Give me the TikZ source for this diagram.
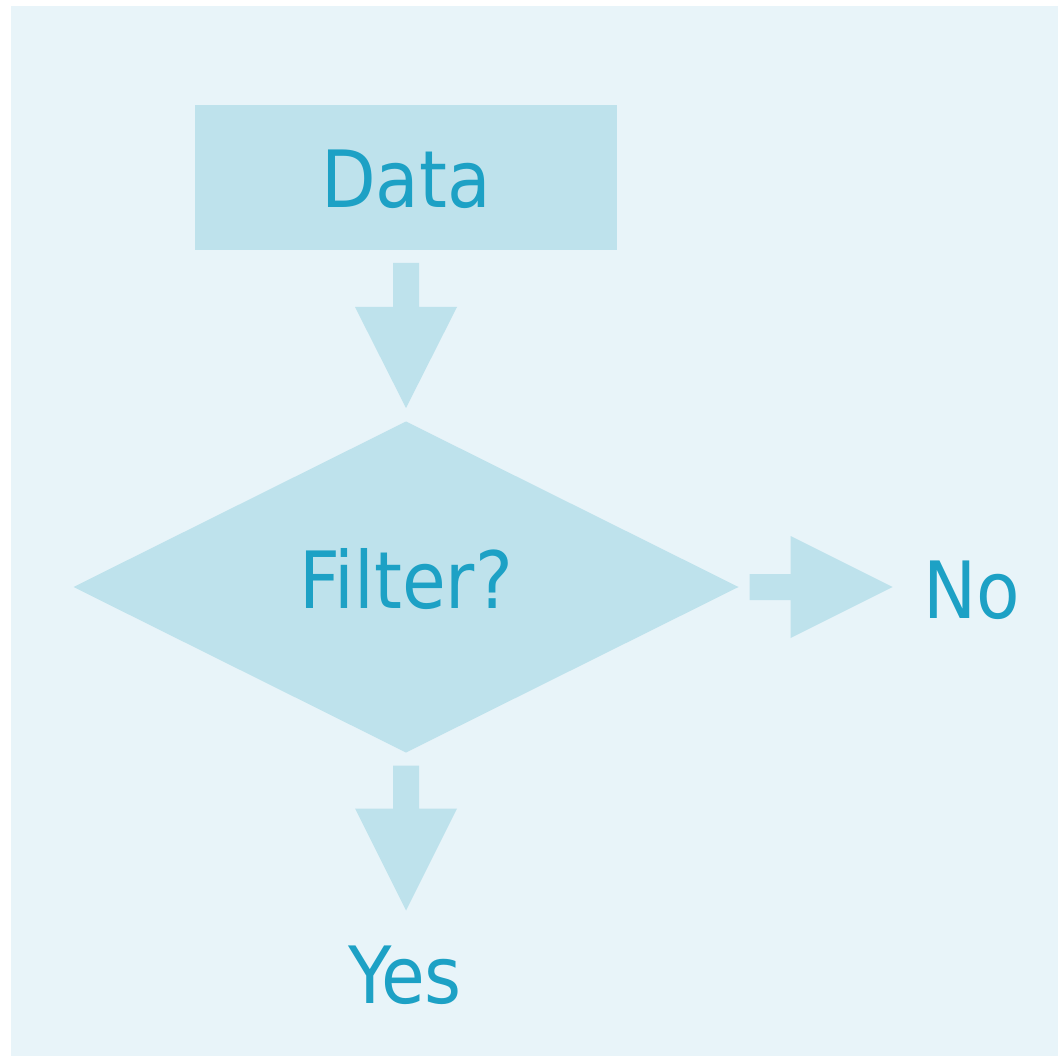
\documentclass[tikz,border=0pt]{standalone}
\usepackage{fontspec}
\setmainfont{DejaVu Sans Condensed}
\usetikzlibrary{shapes.geometric,calc}
\definecolor{paneBg}{HTML}{E8F4F9}
\definecolor{shapeFill}{HTML}{BEE2EC}
\definecolor{labelBlue}{HTML}{1DA1C5}
\tikzset{
  every node/.style={inner sep=0pt, outer sep=0pt},
  lbl/.style={text=labelBlue, font=\fontsize{79}{90}\selectfont, anchor=base},
  blockfill/.style={fill=shapeFill, draw=none},
}
% block arrow pointing down: start point, length of shaft, length of head
\newcommand\downarrowblock[3]{%
  \fill[blockfill] ($#1+(-13,0)$) -- ($#1+(13,0)$) -- ($#1+(13,#2)$) -- ($#1+(51,#2)$)
    -- ($#1+(0,#2+#3)$) -- ($#1+(-51,#2)$) -- ($#1+(-13,#2)$) -- cycle;}
\newcommand\rightarrowblock[3]{%
  \fill[blockfill] ($#1+(0,-13)$) -- ($#1+(0,13)$) -- ($#1+(#2,13)$) -- ($#1+(#2,51)$)
    -- ($#1+(#2+#3,0)$) -- ($#1+(#2,-51)$) -- ($#1+(#2,-13)$) -- cycle;}
\begin{document}
\begin{tikzpicture}[x=1pt,y=-1pt]
  \useasboundingbox (0,0) rectangle (1058,1056);
  \fill[paneBg] (11,6) rectangle (1058,1056);

  \node[blockfill, rectangle, minimum width=422pt, minimum height=145pt] (data) at (406,177.5) {};
  \node[blockfill, diamond, minimum width=665pt, minimum height=331pt, shape aspect=2.009] (filter) at (406,587) {};

  \node[lbl] (dataText) at (406,208) {Data};
  \node[lbl] (filterText) at (406,608) {Filter?};
  \node[lbl, anchor=base west] (no) at (923,618) {No};
  \node[lbl] (yes) at (405,1003) {Yes};

  \downarrowblock{(data.south)+(0,13)}{44}{101}
  \downarrowblock{(filter.south)+(0,13)}{43}{102}
  \rightarrowblock{(filter.east)+(11,0)}{41}{102}
\end{tikzpicture}
\end{document}
